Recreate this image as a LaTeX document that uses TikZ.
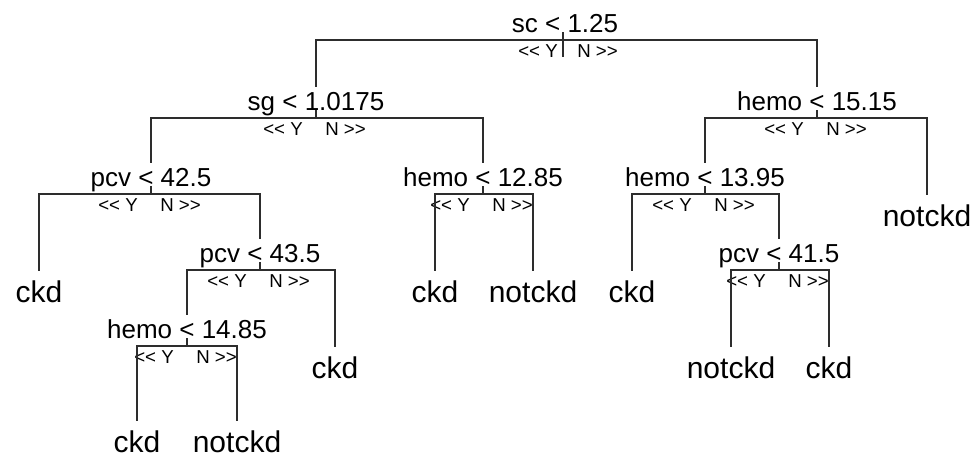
\documentclass[tikz,border=0pt]{standalone}
\usepackage{fontspec}
\setmainfont{Liberation Sans}
\definecolor{branchgray}{RGB}{45,45,45}
\begin{document}
\begin{tikzpicture}[x=0.75pt,y=-0.75pt,
  split/.style={anchor=base, font=\fontsize{19.5}{22}\selectfont, inner sep=0pt,
    text height=14pt, text depth=0pt, outer xsep=0pt, outer ysep=3.25pt},
  leaf/.style={anchor=north, font=\fontsize{22.5}{26}\selectfont, inner sep=0pt,
    text height=16.5pt, text depth=0pt, outer xsep=0pt, outer ysep=6.75pt},
  ylab/.style={anchor=base east, font=\fontsize{14}{16}\selectfont, inner sep=0pt},
  nlab/.style={anchor=base west, font=\fontsize{14}{16}\selectfont, inner sep=0pt},
  branch/.style={draw=branchgray, line width=1.5pt}
]
\useasboundingbox (0,0) rectangle (974,457);

% split points (x of the split, y of its horizontal bar)
\coordinate (sc)   at (563,40);
\coordinate (scS)  at (563,57);
\coordinate (sg)   at (316,118);
\coordinate (hA)   at (817,118);
\coordinate (pA)   at (151,194);
\coordinate (hB)   at (483,194);
\coordinate (hC)   at (705,194);
\coordinate (pB)   at (260,270);
\coordinate (pC)   at (779,270);
\coordinate (hD)   at (187,346);

% split labels
\node[split] (scT) at (565,32)  {sc < 1.25};
\node[split] (sgT) at (316,110) {sg < 1.0175};
\node[split] (hAT) at (817,110) {hemo < 15.15};
\node[split] (pAT) at (151,186) {pcv < 42.5};
\node[split] (hBT) at (483,186) {hemo < 12.85};
\node[split] (hCT) at (705,186) {hemo < 13.95};
\node[split] (pBT) at (260,262) {pcv < 43.5};
\node[split] (pCT) at (779,262) {pcv < 41.5};
\node[split] (hDT) at (187,338) {hemo < 14.85};

% direction labels under each bar
\node[ylab] (scY) at (558,57.5)  {<\kern0pt< Y};
\node[nlab] (scN) at (577,57.5)  {N >\kern0pt>};
\node[ylab] (sgY) at (303,135.5) {<\kern0pt< Y};
\node[nlab] (sgN) at (325,135.5) {N >\kern0pt>};
\node[ylab] (hAY) at (804,135.5) {<\kern0pt< Y};
\node[nlab] (hAN) at (826,135.5) {N >\kern0pt>};
\node[ylab] (pAY) at (138,211.5) {<\kern0pt< Y};
\node[nlab] (pAN) at (160,211.5) {N >\kern0pt>};
\node[ylab] (hBY) at (470,211.5) {<\kern0pt< Y};
\node[nlab] (hBN) at (492,211.5) {N >\kern0pt>};
\node[ylab] (hCY) at (692,211.5) {<\kern0pt< Y};
\node[nlab] (hCN) at (714,211.5) {N >\kern0pt>};
\node[ylab] (pBY) at (247,287.5) {<\kern0pt< Y};
\node[nlab] (pBN) at (269,287.5) {N >\kern0pt>};
\node[ylab] (pCY) at (766,287.5) {<\kern0pt< Y};
\node[nlab] (pCN) at (788,287.5) {N >\kern0pt>};
\node[ylab] (hDY) at (174,363.5) {<\kern0pt< Y};
\node[nlab] (hDN) at (196,363.5) {N >\kern0pt>};

% leaves
\node[leaf] (l1) at (39,271)  {ckd};
\node[leaf] (l2) at (435,271) {ckd};
\node[leaf] (l3) at (533,271) {notckd};
\node[leaf] (l4) at (927,195) {notckd};
\node[leaf] (l5) at (632,271) {ckd};
\node[leaf] (l6) at (335,347) {ckd};
\node[leaf] (l7) at (731,347) {notckd};
\node[leaf] (l8) at (829,347) {ckd};
\node[leaf] (l9) at (137,421) {ckd};
\node[leaf] (l10) at (237,421) {notckd};

% stubs from each label down to its bar
\draw[branch] (scT.base -| sc) -- (scS);
\draw[branch] (sgT.base) -- (sg);
\draw[branch] (hAT.base) -- (hA);
\draw[branch] (pAT.base) -- (pA);
\draw[branch] (hBT.base) -- (hB);
\draw[branch] (hCT.base) -- (hC);
\draw[branch] (pBT.base) -- (pB);
\draw[branch] (pCT.base) -- (pC);
\draw[branch] (hDT.base) -- (hD);

% branches
\draw[branch] (sc) -| (sgT.north);
\draw[branch] (sc) -| (hAT.north);
\draw[branch] (sg) -| (pAT.north);
\draw[branch] (sg) -| (hBT.north);
\draw[branch] (hA) -| (hCT.north);
\draw[branch] (hA) -| (l4.north);
\draw[branch] (pA) -| (l1.north);
\draw[branch] (pA) -| (pBT.north);
\draw[branch] (hB) -| (l2.north);
\draw[branch] (hB) -| (l3.north);
\draw[branch] (hC) -| (l5.north);
\draw[branch] (hC) -| (pCT.north);
\draw[branch] (pB) -| (hDT.north);
\draw[branch] (pB) -| (l6.north);
\draw[branch] (pC) -| (l7.north);
\draw[branch] (pC) -| (l8.north);
\draw[branch] (hD) -| (l9.north);
\draw[branch] (hD) -| (l10.north);
\end{tikzpicture}
\end{document}
